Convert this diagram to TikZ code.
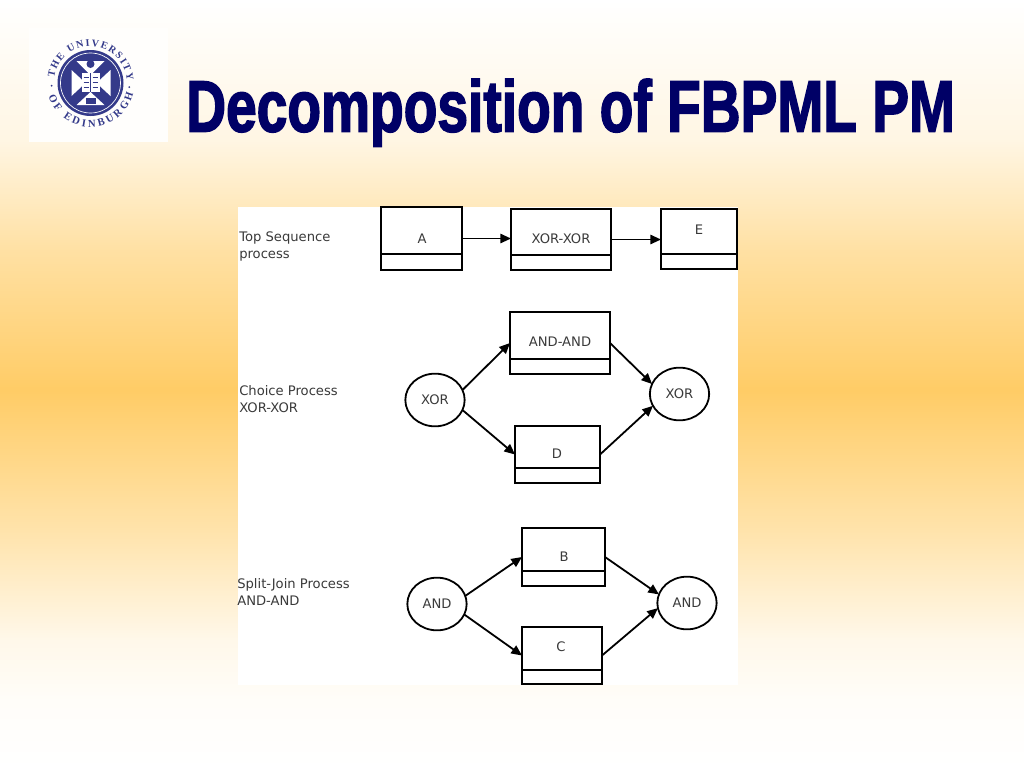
\documentclass[tikz,border=0pt]{standalone}
\usepackage{fontspec}
\usepackage{graphicx}
\setmainfont{DejaVu Sans}
\newfontfamily\titlefont{Liberation Sans Bold}[FakeBold=2.5]
\newfontfamily\crestfont{Liberation Serif Bold}
\usetikzlibrary{arrows.meta,shapes.geometric,decorations.text}
\definecolor{peak}{HTML}{FFCC66}
\definecolor{navy}{HTML}{000066}
\definecolor{crest}{HTML}{343A8A}
\definecolor{ink}{HTML}{3A3A3A}
\colorlet{gA}{peak!4!white}
\colorlet{gB}{peak!14!white}
\colorlet{gC}{peak!55!white}
\colorlet{gD}{peak!60!white}
\colorlet{gE}{peak!18!white}
\pgfdeclareverticalshading{slidebg}{100bp}{
  color(0bp)=(white); color(25bp)=(white); color(29.4bp)=(gA); color(33.35bp)=(gB); color(40.5bp)=(gC);
  color(49.6bp)=(peak); color(58.7bp)=(gD); color(65.9bp)=(gE); color(75bp)=(white); color(100bp)=(white)}
\tikzset{
  x=0.75pt,y=-0.75pt,
  procbox/.style={draw=black,line width=1.35pt,fill=white,rectangle,inner sep=0pt,outer sep=0pt},
  lbl/.style={font=\fontsize{9.85pt}{12.75pt}\selectfont,text=ink,inner sep=0pt},
  gate/.style={lbl,draw=black,line width=1.35pt,fill=white,ellipse,inner sep=0pt,outer sep=0pt,minimum width=44.5pt,minimum height=39.5pt},
  flow/.style={draw=black,line width=1.35pt,-{Triangle[length=8pt,width=7pt]}},
  side/.style={lbl,align=left,anchor=north west},
}
\newcommand{\pbox}[6]{% name x1 y1 x2 y2 divider
  \node[procbox,minimum width={(#4-#2)*0.75pt},minimum height={(#5-#3)*0.75pt}] (#1) at ({(#2+#4)/2},{(#3+#5)/2}) {};
  \draw[line width=1.35pt] (#1.west |- 0,#6) -- (#1.east |- 0,#6);
}
\begin{document}
\begin{tikzpicture}
\useasboundingbox (0,0) rectangle (1024,768);
\shade[shading=slidebg] (0,0) rectangle (1024,768);
% logo
\fill[white!98!peak] (29,28) rectangle (168,142);
\begin{scope}[shift={(90.5,83)},x=0.75pt,y=0.75pt]
  \fill[crest] (0,0) circle (33);
  \fill[white] (-19,13) -- (-19,-13) -- (-5,0) -- cycle;
  \fill[white] (20,13) -- (20,-13) -- (6,0) -- cycle;
  \fill[white] (-14,22) -- (14,22) -- (0,8) -- cycle;
  \fill[white] (-14,-22) -- (14,-22) -- (0,-9) -- cycle;
  \fill[crest] (0,19) circle (4);
  \fill[crest] (-5,-21) rectangle (5,-15);
  \draw[white,line width=0.5pt] (0,0) circle (30);
  \fill[white] (-9,-9) rectangle (9,10);
  \draw[crest,line width=0.7pt] (0,-9) -- (0,10);
  \foreach \yy in {-4,1,6}{\draw[crest,line width=0.5pt] (-7,\yy) -- (-2,\yy) (2,\yy) -- (7,\yy);}
  \path[decorate,decoration={text along path,text align={fit to path},
    text={|\crestfont\fontsize{7.6pt}{8pt}\selectfont\color{crest}|THE UNIVERSITY}}]
    (172:36.5) arc (172:4:36.5);
  \path[decorate,decoration={text along path,text align={fit to path},
    text={|\crestfont\fontsize{8pt}{8pt}\selectfont\color{crest}|OF EDINBURGH}}]
    (198:44) arc (198:346:44);
  \fill[crest] (184:39) circle (1) (-6:39) circle (1);
\end{scope}
% title
\node[anchor=base west,inner sep=0pt,text=navy] (title) at (186,131.5)
  {\resizebox{576.5pt}{!}{\titlefont\fontsize{60pt}{60pt}\selectfont\scalebox{0.76}[1]{Decomposition of FBPML PM}}};
% panel
\fill[white] (238,207) rectangle (738,685);
\node[side] (t1) at (239,231) {Top Sequence\\process};
\node[side] (t2) at (239,385) {Choice Process\\XOR-XOR};
\node[side] (t3) at (237,578) {Split-Join Process\\AND-AND};
% boxes
\pbox{a}{381}{207}{462}{270}{254}
\pbox{xx}{511}{209}{611}{270}{255}
\pbox{e}{661}{209}{737}{269}{254}
\pbox{aa}{510}{312}{610}{374}{359}
\pbox{d}{515}{426}{600}{483}{468}
\pbox{b}{522}{528}{605}{586}{571}
\pbox{c}{522}{627}{602}{684}{670}
\node[lbl] (la) at (422,239) {A};
\node[lbl] (lxx) at (561,239) {XOR-XOR};
\node[lbl] (le) at (699,230) {E};
\node[lbl] (laa) at (560,342) {AND-AND};
\node[lbl] (ld) at (557,454) {D};
\node[lbl] (lb) at (564,557) {B};
\node[lbl] (lc) at (561,647) {C};
% gates
\node[gate] (x1) at (435,400) {XOR};
\node[gate] (x2) at (679.5,394) {XOR};
\node[gate] (a1) at (437,604) {AND};
\node[gate] (a2) at (687,603) {AND};
% connectors
\draw[flow] (a.east) -- (a.east -| xx.west);
\draw[flow] (xx.east) -- (xx.east -| e.west);
\draw[flow] (x1.20) -- (aa.west);
\draw[flow] (aa.east) -- (x2.160);
\draw[flow] (x1.-20) -- (d.west);
\draw[flow] (d.east) -- (x2.204);
\draw[flow] (a1.16) -- (b.west);
\draw[flow] (b.east) -- (a2.163);
\draw[flow] (a1.-21) -- (c.west);
\draw[flow] (c.east) -- (a2.190);
\end{tikzpicture}
\end{document}
